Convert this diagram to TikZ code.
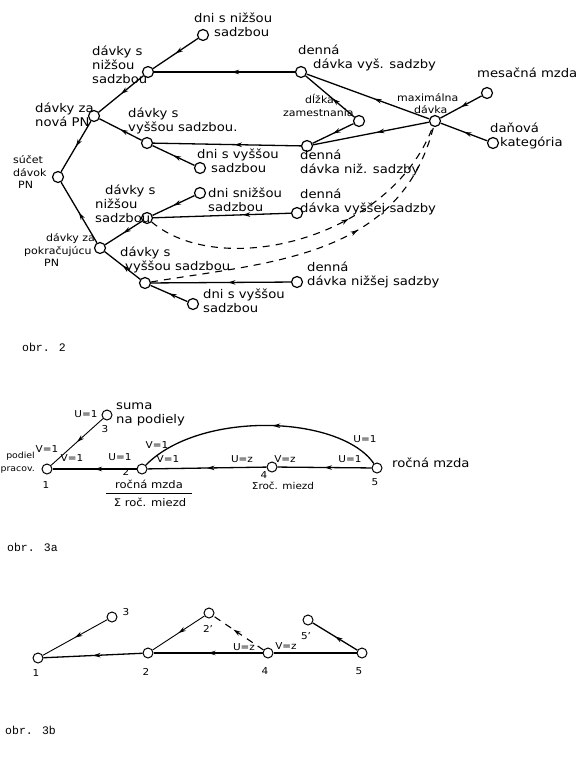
\documentclass[tikz,border=0pt]{standalone}
\usepackage{fontspec}
\setmainfont{DejaVu Sans}[FakeStretch=1.1]
\newfontfamily\capfont{Liberation Mono}
\usetikzlibrary{arrows.meta,decorations.markings}
\tikzset{
 pt/.style={circle,draw,line width=1.2pt,minimum size=11pt,inner sep=0pt,fill=white},
 pts/.style={pt,minimum size=10pt,line width=1pt},
 txt/.style={inner sep=0pt,anchor=west,align=left,font=\fontsize{12}{14}\selectfont},
 txtn/.style={txt,font=\fontsize{10}{12.5}\selectfont},
 txtc/.style={txt,anchor=center,align=center},
 sml/.style={inner sep=0pt,anchor=center,font=\fontsize{9.5}{11}\selectfont},
 smle/.style={inner sep=0pt,anchor=east,align=right,font=\fontsize{8.5}{13}\selectfont},
 frac/.style={inner sep=0pt,anchor=center,font=\fontsize{10.5}{12}\selectfont},
 capnode/.style={inner sep=0pt,anchor=west,font=\capfont\fontsize{11.5}{12}\selectfont},
 edge/.style={line width=1.3pt},
 thinedge/.style={line width=0.9pt},
 midarr/.style={postaction={decorate},decoration={markings,mark=at position #1 with {\arrow{Stealth[length=7.5pt,width=4.5pt]}}}},
 midarr/.default=0.5,
 dashedge/.style={dash pattern=on 7pt off 6pt,line width=1.1pt}
}
\newcommand\mylab[4][txt]{\node[#1] (#2) at (#3) {#4};}
\begin{document}
\begin{tikzpicture}[x=1pt,y=-1pt]
\useasboundingbox[fill=white] (0,0) rectangle (583,766);

% ---------- obr. 2 : nodes ----------
\node[pt] (dnn1) at (203,35) {};
\node[pt] (dsn1) at (148,72) {};
\node[pt] (nova) at (94,116) {};
\node[pt] (sucet) at (58,177) {};
\node[pt] (dsv1) at (147,143) {};
\node[pt] (dnv1) at (200,168) {};
\node[pt] (ddvys) at (301,72) {};
\node[pt] (dlzka) at (359,121) {};
\node[pt] (ddniz) at (307,146) {};
\node[pt] (maxd) at (435,121) {};
\node[pt] (mzda) at (487,93) {};
\node[pt] (dan) at (493,143) {};
\node[pt] (dsn2) at (147,218) {};
\node[pt] (dnn2) at (200,193) {};
\node[pt] (ddvyssej) at (297,213) {};
\node[pt] (pokr) at (100,248) {};
\node[pt] (dsv2) at (145,283) {};
\node[pt] (dnv2) at (193,304) {};
\node[pt] (ddnizsej) at (297,282) {};

% ---------- obr. 2 : labels ----------
\mylab{la}{194,25}{dni s nižšou\\\hspace*{20pt}sadzbou}
\mylab{lb}{92,65}{dávky s\\nižšou\\sadzbou}
\mylab{lc}{35,114.5}{dávky za\\nová PN}
\mylab[txtn]{ld}{13,172}{súčet\\dávok\\\hspace*{5pt}PN}
\mylab{le}{128,121}{dávky s\\vyššou sadzbou.}
\mylab{lf}{197,160.5}{dni s vyššou\\\hspace*{14pt}sadzbou}
\mylab{lg}{298,57.5}{denná\\\hspace*{15pt}dávka vyš. sadzby}
\mylab[txtn]{lh}{283,105.5}{\hspace*{22pt}dĺžka\\zamestnania}
\mylab{li}{300,163}{denná\\dávka niž. sadzby}
\mylab[txtn]{lj}{397,103.5}{maximálna\\\hspace*{17pt}dávka}
\mylab{lk}{477,73}{mesačná mzda}
\mylab{ll}{490,135.5}{daňová\\\hspace*{10pt}kategória}
\mylab{lm}{95,203.5}{\hspace*{10pt}dávky s\\nižšou\\sadzbou}
\mylab{ln}{208,199.5}{dni snižšou\\sadzbou}
\mylab{lo}{300,201.5}{denná\\dávka vyššej sadzby}
\mylab[txtn]{lp}{24,250}{\hspace*{22pt}dávky za\\pokračujúcu\\\hspace*{20pt}PN}
\mylab{lq}{120,259.5}{dávky s\\\hspace*{5pt}vyššou sadzbou}
\mylab{lr}{203,300.5}{dni s vyššou\\sadzbou}
\mylab{ls}{307,275}{denná\\dávka nižšej sadzby}

% ---------- obr. 2 : edges ----------
\draw[edge,midarr] (dnn1) -- (dsn1);
\draw[edge,midarr] (dsn1) -- (nova);
\draw[edge,midarr=0.45] (ddvys) -- (dsn1);
\draw[edge,midarr] (nova) -- (sucet);
\draw[edge,midarr] (dsv1) -- (nova);
\draw[edge,midarr=0.45] (ddniz) -- (dsv1);
\draw[edge,midarr] (dnv1) -- (dsv1);
\draw[edge,midarr] (dlzka) -- (ddniz);
\draw[edge,midarr=0.45] (dlzka) -- (ddvys);
\draw[edge,midarr=0.45] (maxd) -- (ddvys);
\draw[edge,midarr=0.45] (maxd) -- (ddniz);
\draw[edge,midarr] (mzda) -- (maxd);
\draw[edge,midarr] (dan) -- (maxd);
\draw[edge,midarr] (pokr) -- (sucet);
\draw[edge,midarr] (dsn2) -- (pokr);
\draw[edge,midarr] (dnn2) -- (dsn2);
\draw[edge,midarr=0.35] (ddvyssej) -- (dsn2);
\draw[edge,midarr] (dsv2) -- (pokr);
\draw[edge,midarr=0.45] (ddnizsej) -- (dsv2);
\draw[edge,midarr] (dnv2) -- (dsv2);
\draw[dashedge,midarr=0.62] (dsn2) .. controls (220,280) and (390,240) .. (maxd);
\draw[dashedge,midarr=0.62] (dsv2) .. controls (270,262) and (400,258) .. (maxd);

\node[capnode] (cap2) at (22,347) {obr. 2};

% ---------- obr. 3a ----------
\node[pts] (a1) at (47,469) {};
\node[pts] (a3) at (107,415) {};
\node[pts] (a2) at (142,469) {};
\node[pts] (a4) at (272,467) {};
\node[pts] (a5) at (377,468) {};
\draw[edge,midarr] (a5) -- (a4);
\draw[edge,midarr] (a4) -- (a2);
\draw[edge,midarr] (a2) -- (a1);
\draw[thinedge,midarr] (a3) -- (a1);
\draw[edge,midarr=0.45] (a5) .. controls (340,415) and (200,410) .. (a2);
\mylab[sml]{a1n}{46,485}{1}
\mylab[sml]{a3n}{105,429}{3}
\mylab[sml]{a2n}{126,472}{2}
\mylab[sml]{a4n}{264,475}{4}
\mylab[sml]{a5n}{375,482}{5}
\mylab{a3t}{116,414.5}{suma\\na podiely}
\mylab[smle]{a1t}{35,463}{podiel\\pracov.}
\mylab[sml]{u31}{86,414}{U=1}
\mylab[sml]{v11a}{47,449}{V=1}
\mylab[sml]{v11b}{72,458}{V=1}
\mylab[sml]{u21}{120,457}{U=1}
\mylab[sml]{v21a}{157,445}{V=1}
\mylab[sml]{v21b}{168,459}{V=1}
\mylab[sml]{u4z}{242,459}{U=z}
\mylab[sml]{v4z}{285,459}{V=z}
\mylab[sml]{u51a}{350,459}{U=1}
\mylab[sml]{u51b}{365,439}{U=1}
\mylab{a5t}{392,463}{ročná mzda}
\mylab[sml]{a4t}{283,486}{Σroč. miezd}
\mylab[frac]{fr1}{149,484}{ročná mzda}
\mylab[frac]{fr2}{150,502}{Σ roč. miezd}
\coordinate (frl) at (106,493);
\coordinate (frr) at (192,493);
\draw[line width=0.9pt] (frl) -- (frr);

\node[capnode] (cap3a) at (7,547) {obr. 3a};

% ---------- obr. 3b ----------
\node[pts] (b1) at (38,658) {};
\node[pts] (b3) at (112,617) {};
\node[pts] (b2) at (148,653) {};
\node[pts] (b2p) at (209,613) {};
\node[pts] (b4) at (268,653) {};
\node[pts] (b5p) at (308,620) {};
\node[pts] (b5) at (362,653) {};
\draw[thinedge,midarr] (b3) -- (b1);
\draw[edge,midarr] (b2) -- (b1);
\draw[edge,midarr] (b4) -- (b2);
\draw[thinedge,midarr] (b2p) -- (b2);
\draw[dashedge,midarr=0.6] (b4) -- (b2p);
\draw[edge] (b5) -- (b4);
\draw[edge,midarr] (b5) -- (b5p);
\mylab[sml]{b1n}{36,673}{1}
\mylab[sml]{b3n}{126,612}{3}
\mylab[sml]{b2n}{146,672}{2}
\mylab[sml]{b2pn}{208,629}{2'}
\mylab[sml]{b4n}{265,671}{4}
\mylab[sml]{b5pn}{306,636}{5'}
\mylab[sml]{b5n}{359,671}{5}
\mylab[sml]{bu}{244,647}{U=z}
\mylab[sml]{bv}{286,646}{V=z}

\node[capnode] (cap3b) at (5,730) {obr. 3b};
\end{tikzpicture}
\end{document}
